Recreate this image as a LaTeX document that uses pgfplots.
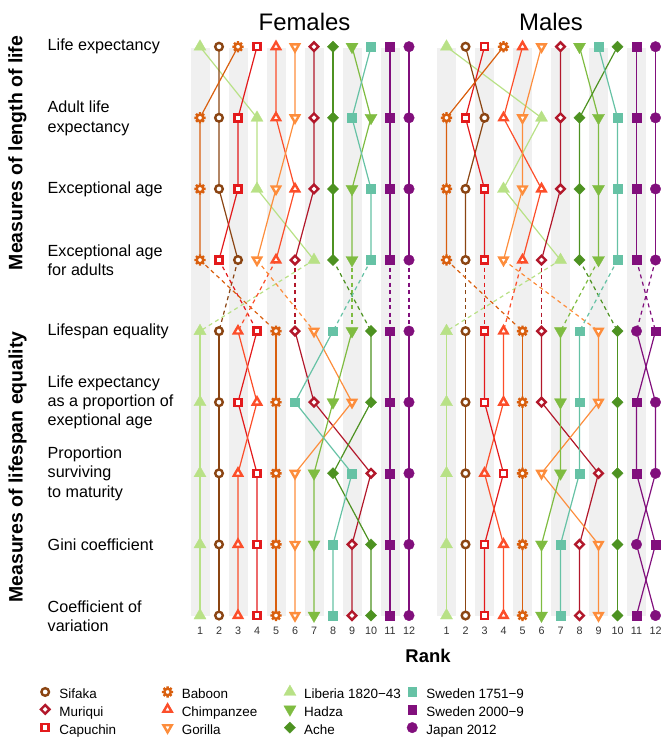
\documentclass[border=0pt]{standalone}
\usepackage{fontspec}
\setmainfont{Liberation Sans}
\usepackage{pgfplots}
\usepackage{pgfplotstable}
\pgfplotsset{compat=1.18}

\definecolor{cSif}{HTML}{8B4513}
\definecolor{cMur}{HTML}{B2182B}
\definecolor{cCap}{HTML}{E31A1C}
\definecolor{cBab}{HTML}{D95F0E}
\definecolor{cChi}{HTML}{FC4E2A}
\definecolor{cGor}{HTML}{FD8D3C}
\definecolor{cLib}{HTML}{B8E186}
\definecolor{cHad}{HTML}{7FBC41}
\definecolor{cAch}{HTML}{4D9221}
\definecolor{cSwA}{HTML}{66C2A5}
\definecolor{cSwB}{HTML}{810F7C}
\definecolor{cJap}{HTML}{810F7C}
\definecolor{bandgray}{HTML}{F0F0F0}

\newdimen\omw \omw=2.4bp
\pgfdeclareplotmark{sun}{%
  \pgfsetlinewidth{\omw}%
  \pgfpathmoveto{\pgfpointpolar{0}{0.55\pgfplotmarksize}}\pgfpathlineto{\pgfpointpolar{0}{\pgfplotmarksize}}%
  \pgfpathmoveto{\pgfpointpolar{45}{0.55\pgfplotmarksize}}\pgfpathlineto{\pgfpointpolar{45}{\pgfplotmarksize}}%
  \pgfpathmoveto{\pgfpointpolar{90}{0.55\pgfplotmarksize}}\pgfpathlineto{\pgfpointpolar{90}{\pgfplotmarksize}}%
  \pgfpathmoveto{\pgfpointpolar{135}{0.55\pgfplotmarksize}}\pgfpathlineto{\pgfpointpolar{135}{\pgfplotmarksize}}%
  \pgfpathmoveto{\pgfpointpolar{180}{0.55\pgfplotmarksize}}\pgfpathlineto{\pgfpointpolar{180}{\pgfplotmarksize}}%
  \pgfpathmoveto{\pgfpointpolar{225}{0.55\pgfplotmarksize}}\pgfpathlineto{\pgfpointpolar{225}{\pgfplotmarksize}}%
  \pgfpathmoveto{\pgfpointpolar{270}{0.55\pgfplotmarksize}}\pgfpathlineto{\pgfpointpolar{270}{\pgfplotmarksize}}%
  \pgfpathmoveto{\pgfpointpolar{315}{0.55\pgfplotmarksize}}\pgfpathlineto{\pgfpointpolar{315}{\pgfplotmarksize}}%
  \pgfusepathqstroke
  \pgfpathcircle{\pgfpointorigin}{0.58\pgfplotmarksize}%
  \pgfusepathqfillstroke
}
\pgfdeclareplotmark{ocirc}{%
  \pgfsetlinewidth{\omw}%
  \pgfpathcircle{\pgfpointorigin}{\pgfplotmarksize}%
  \pgfusepathqfillstroke
}
\pgfdeclareplotmark{osq}{%
  \pgfsetlinewidth{\omw}%
  \pgfpathrectangle{\pgfpoint{-\pgfplotmarksize}{-\pgfplotmarksize}}{\pgfpoint{2\pgfplotmarksize}{2\pgfplotmarksize}}%
  \pgfusepathqfillstroke
}
\pgfdeclareplotmark{odia}{%
  \pgfsetlinewidth{\omw}%
  \pgfpathmoveto{\pgfpoint{0pt}{\pgfplotmarksize}}%
  \pgfpathlineto{\pgfpoint{\pgfplotmarksize}{0pt}}%
  \pgfpathlineto{\pgfpoint{0pt}{-\pgfplotmarksize}}%
  \pgfpathlineto{\pgfpoint{-\pgfplotmarksize}{0pt}}%
  \pgfpathclose
  \pgfusepathqfillstroke
}
\pgfdeclareplotmark{otri}{%
  \pgfsetlinewidth{\omw}%
  \pgfpathmoveto{\pgfpoint{0pt}{\pgfplotmarksize}}%
  \pgfpathlineto{\pgfpoint{0.866\pgfplotmarksize}{-0.5\pgfplotmarksize}}%
  \pgfpathlineto{\pgfpoint{-0.866\pgfplotmarksize}{-0.5\pgfplotmarksize}}%
  \pgfpathclose
  \pgfusepathqfillstroke
}
\pgfdeclareplotmark{otrid}{%
  \pgfsetlinewidth{\omw}%
  \pgfpathmoveto{\pgfpoint{0pt}{-\pgfplotmarksize}}%
  \pgfpathlineto{\pgfpoint{0.866\pgfplotmarksize}{0.5\pgfplotmarksize}}%
  \pgfpathlineto{\pgfpoint{-0.866\pgfplotmarksize}{0.5\pgfplotmarksize}}%
  \pgfpathclose
  \pgfusepathqfillstroke
}

\tikzset{
 fullm/.style={line width=0.3bp, solid},
 mSif/.style={mark=ocirc, mark size=3.8bp, color=cSif, mark options={solid, draw=cSif, fill=white}},
 mMur/.style={mark=odia, mark size=4.3bp, color=cMur, mark options={solid, draw=cMur, fill=white}},
 mCap/.style={mark=osq, mark size=3.5bp, color=cCap, mark options={solid, draw=cCap, fill=white}},
 mBab/.style={mark=sun, mark size=5.6bp, color=cBab, mark options={solid, draw=cBab, fill=white}},
 mChi/.style={mark=otri, mark size=4.8bp, color=cChi, mark options={solid, draw=cChi, fill=white}},
 mGor/.style={mark=otrid, mark size=4.8bp, color=cGor, mark options={solid, draw=cGor, fill=white}},
 mLib/.style={mark=triangle*, mark size=7bp, color=cLib, fullm, mark options={fullm, draw=cLib, fill=cLib}},
 mHad/.style={mark=triangle*, mark size=7bp, color=cHad, fullm, mark options={fullm, rotate=180, draw=cHad, fill=cHad}},
 mAch/.style={mark=square*, mark size=4.0bp, color=cAch, fullm, mark options={fullm, rotate=45, draw=cAch, fill=cAch}},
 mSwA/.style={mark=square*, mark size=4.4bp, color=cSwA, fullm, mark options={fullm, draw=cSwA, fill=cSwA}},
 mSwB/.style={mark=square*, mark size=4.4bp, color=cSwB, fullm, mark options={fullm, draw=cSwB, fill=cSwB}},
 mJap/.style={mark=*, mark size=5.3bp, color=cJap, fullm, mark options={fullm, draw=cJap, fill=cJap}},
}

% ranks: rows 1-9 = measures
\pgfplotstableread{
row Sif Mur Cap Bab Chi Gor Lib Had Ach SwA SwB Jap
1 2 7 4 3 5 6 1 9 8 10 11 12
2 2 7 3 1 5 6 4 10 8 9 11 12
3 2 7 3 1 6 5 4 9 8 10 11 12
4 3 6 2 1 5 4 7 9 8 10 11 12
5 2 6 4 5 3 7 1 9 10 8 11 12
6 2 7 3 5 4 9 1 8 10 6 11 12
7 2 10 4 5 3 6 1 7 8 9 11 12
8 2 9 4 5 3 6 1 7 10 8 11 12
9 2 9 4 5 3 6 1 7 10 8 11 12
}\femtab

\pgfplotstableread{
row Sif Mur Cap Bab Chi Gor Lib Had Ach SwA SwB Jap
1 2 7 3 4 5 6 1 8 10 9 11 12
2 3 7 2 1 4 5 6 9 8 10 11 12
3 2 7 3 1 6 5 4 9 8 10 11 12
4 2 6 3 1 5 4 7 9 8 10 11 12
5 2 6 3 5 4 9 1 7 10 8 12 11
6 2 6 3 5 4 9 1 7 10 8 11 12
7 2 9 4 5 3 6 1 7 10 8 11 12
8 2 8 3 5 4 9 1 6 10 7 12 11
9 2 8 3 5 4 9 1 6 10 7 11 12
}\maltab

\newcommand\speclines[3]{%
  \addplot[color=#3, line width=1.2bp, no marks, forget plot, restrict y to domain=1:4] table[x=#2, y=row] {#1};
  \addplot[color=#3, line width=1.2bp, no marks, forget plot, dash pattern=on 4bp off 3.5bp, restrict y to domain=4:5] table[x=#2, y=row] {#1};
  \addplot[color=#3, line width=1.2bp, no marks, forget plot, restrict y to domain=5:9] table[x=#2, y=row] {#1};
}
\newcommand\specmarks[3]{%
  \addplot[only marks, #3, forget plot] table[x=#2, y=row] {#1};
}
\newcommand\bands{%
  \fill[bandgray] (axis cs:0.5,1.02) rectangle (axis cs:1.5,9);
  \fill[bandgray] (axis cs:2.5,1.02) rectangle (axis cs:3.5,9);
  \fill[bandgray] (axis cs:4.5,1.02) rectangle (axis cs:5.5,9);
  \fill[bandgray] (axis cs:6.5,1.02) rectangle (axis cs:7.5,9);
  \fill[bandgray] (axis cs:8.5,1.02) rectangle (axis cs:9.5,9);
  \fill[bandgray] (axis cs:10.5,1.02) rectangle (axis cs:11.5,9);
}
\newcommand\allplots[1]{%
  \bands
  \speclines{#1}{Lib}{cLib}
  \speclines{#1}{Sif}{cSif}
  \speclines{#1}{Mur}{cMur}
  \speclines{#1}{Cap}{cCap}
  \speclines{#1}{Bab}{cBab}
  \speclines{#1}{Chi}{cChi}
  \speclines{#1}{Gor}{cGor}
  \speclines{#1}{Had}{cHad}
  \speclines{#1}{Ach}{cAch}
  \speclines{#1}{SwA}{cSwA}
  \speclines{#1}{SwB}{cSwB}
  \speclines{#1}{Jap}{cJap}
  \specmarks{#1}{Lib}{mLib}
  \specmarks{#1}{Sif}{mSif}
  \specmarks{#1}{Mur}{mMur}
  \specmarks{#1}{Cap}{mCap}
  \specmarks{#1}{Bab}{mBab}
  \specmarks{#1}{Chi}{mChi}
  \specmarks{#1}{Gor}{mGor}
  \specmarks{#1}{Had}{mHad}
  \specmarks{#1}{Ach}{mAch}
  \specmarks{#1}{SwA}{mSwA}
  \specmarks{#1}{SwB}{mSwB}
  \specmarks{#1}{Jap}{mJap}
}

\pgfplotsset{
  rankaxis/.style={
    scale only axis, width=228bp, height=612.31bp,
    xmin=0.5, xmax=12.5, ymin=0.5, ymax=9.112, y dir=reverse,
    clip=false,
    axis line style={draw=none}, tick style={draw=none}, major tick length=0pt,
    ytick=\empty,
    xtick={1,2,3,4,5,6,7,8,9,10,11,12},
    xticklabels={1,2,3,4,5,6,7,8,9,10,11,12},
    xticklabel style={font=\fontsize{10.8}{12}\selectfont, anchor=north, inner sep=0pt, yshift=-3.5bp, text=black!80},
  }
}

\newcommand\rowfont{\fontsize{16.2}{19.5}\selectfont}
\newcommand\rowlab[2]{\node[anchor=west, align=left, font=\rowfont, inner sep=0pt] at (47.5bp,-#1bp) {#2};}

\begin{document}
\begin{tikzpicture}
\path[use as bounding box] (0,0) rectangle (666bp,-738bp);

\begin{axis}[rankaxis, at={(190.5bp,-11.15bp)}, anchor=north west,
  legend columns=4,
  legend cell align=left,
  legend style={at={(axis description cs:-0.6645,-0.1004)}, anchor=north west,
    draw=none, fill=none, inner sep=0pt, outer sep=0pt, column sep=0pt, row sep=2.6bp,
    font=\fontsize{13.5}{15}\selectfont,
    nodes={inner sep=0pt, text height=10bp, text depth=3bp}},
  legend image code/.code={\path (-6bp,0bp) (6bp,0bp); \draw[#1] plot[only marks] coordinates {(0bp,3.5bp)};},
]
\allplots{\femtab}
\addlegendimage{mSif}\addlegendentry{\makebox[110bp][l]{\hspace{8bp}Sifaka}}
\addlegendimage{mBab}\addlegendentry{\makebox[110bp][l]{\hspace{8bp}Baboon}}
\addlegendimage{mLib}\addlegendentry{\makebox[110bp][l]{\hspace{8bp}Liberia 1820−43}}
\addlegendimage{mSwA}\addlegendentry{\makebox[110bp][l]{\hspace{8bp}Sweden 1751−9}}
\addlegendimage{mMur}\addlegendentry{\makebox[110bp][l]{\hspace{8bp}Muriqui}}
\addlegendimage{mChi}\addlegendentry{\makebox[110bp][l]{\hspace{8bp}Chimpanzee}}
\addlegendimage{mHad}\addlegendentry{\makebox[110bp][l]{\hspace{8bp}Hadza}}
\addlegendimage{mSwB}\addlegendentry{\makebox[110bp][l]{\hspace{8bp}Sweden 2000−9}}
\addlegendimage{mCap}\addlegendentry{\makebox[110bp][l]{\hspace{8bp}Capuchin}}
\addlegendimage{mGor}\addlegendentry{\makebox[110bp][l]{\hspace{8bp}Gorilla}}
\addlegendimage{mAch}\addlegendentry{\makebox[110bp][l]{\hspace{8bp}Ache}}
\addlegendimage{mJap}\addlegendentry{\makebox[110bp][l]{\hspace{8bp}Japan 2012}}
\end{axis}

\begin{axis}[rankaxis, at={(437bp,-11.15bp)}, anchor=north west]
\allplots{\maltab}
\end{axis}

% panel titles
\node[anchor=base, font=\fontsize{24}{28}\selectfont, inner sep=0pt] at (304.5bp,-30.7bp) {Females};
\node[anchor=base, font=\fontsize{24}{28}\selectfont, inner sep=0pt] at (551bp,-30.7bp) {Males};

% x axis title
\node[anchor=base, font=\bfseries\fontsize{18.5}{22}\selectfont, inner sep=0pt] at (428bp,-662.7bp) {Rank};

% group labels
\node[rotate=90, font=\bfseries\fontsize{19.5}{22}\selectfont, inner sep=0pt] at (17.5bp,-153bp) {Measures of length of life};
\node[rotate=90, font=\bfseries\fontsize{19.5}{22}\selectfont, inner sep=0pt] at (17.5bp,-467bp) {Measures of lifespan equality};

% row labels
\rowlab{46.7}{Life expectancy}
\rowlab{118.5}{Adult life\\expectancy}
\rowlab{188.9}{Exceptional age}
\rowlab{260.5}{Exceptional age\\for adults}
\rowlab{331.2}{Lifespan equality}
\rowlab{402.3}{Life expectancy\\as a proportion of\\exeptional age}
\rowlab{473.4}{Proportion\\surviving\\to maturity}
\rowlab{544.6}{Gini coefficient}
\rowlab{616}{Coefficient of\\variation}
\end{tikzpicture}
\end{document}
